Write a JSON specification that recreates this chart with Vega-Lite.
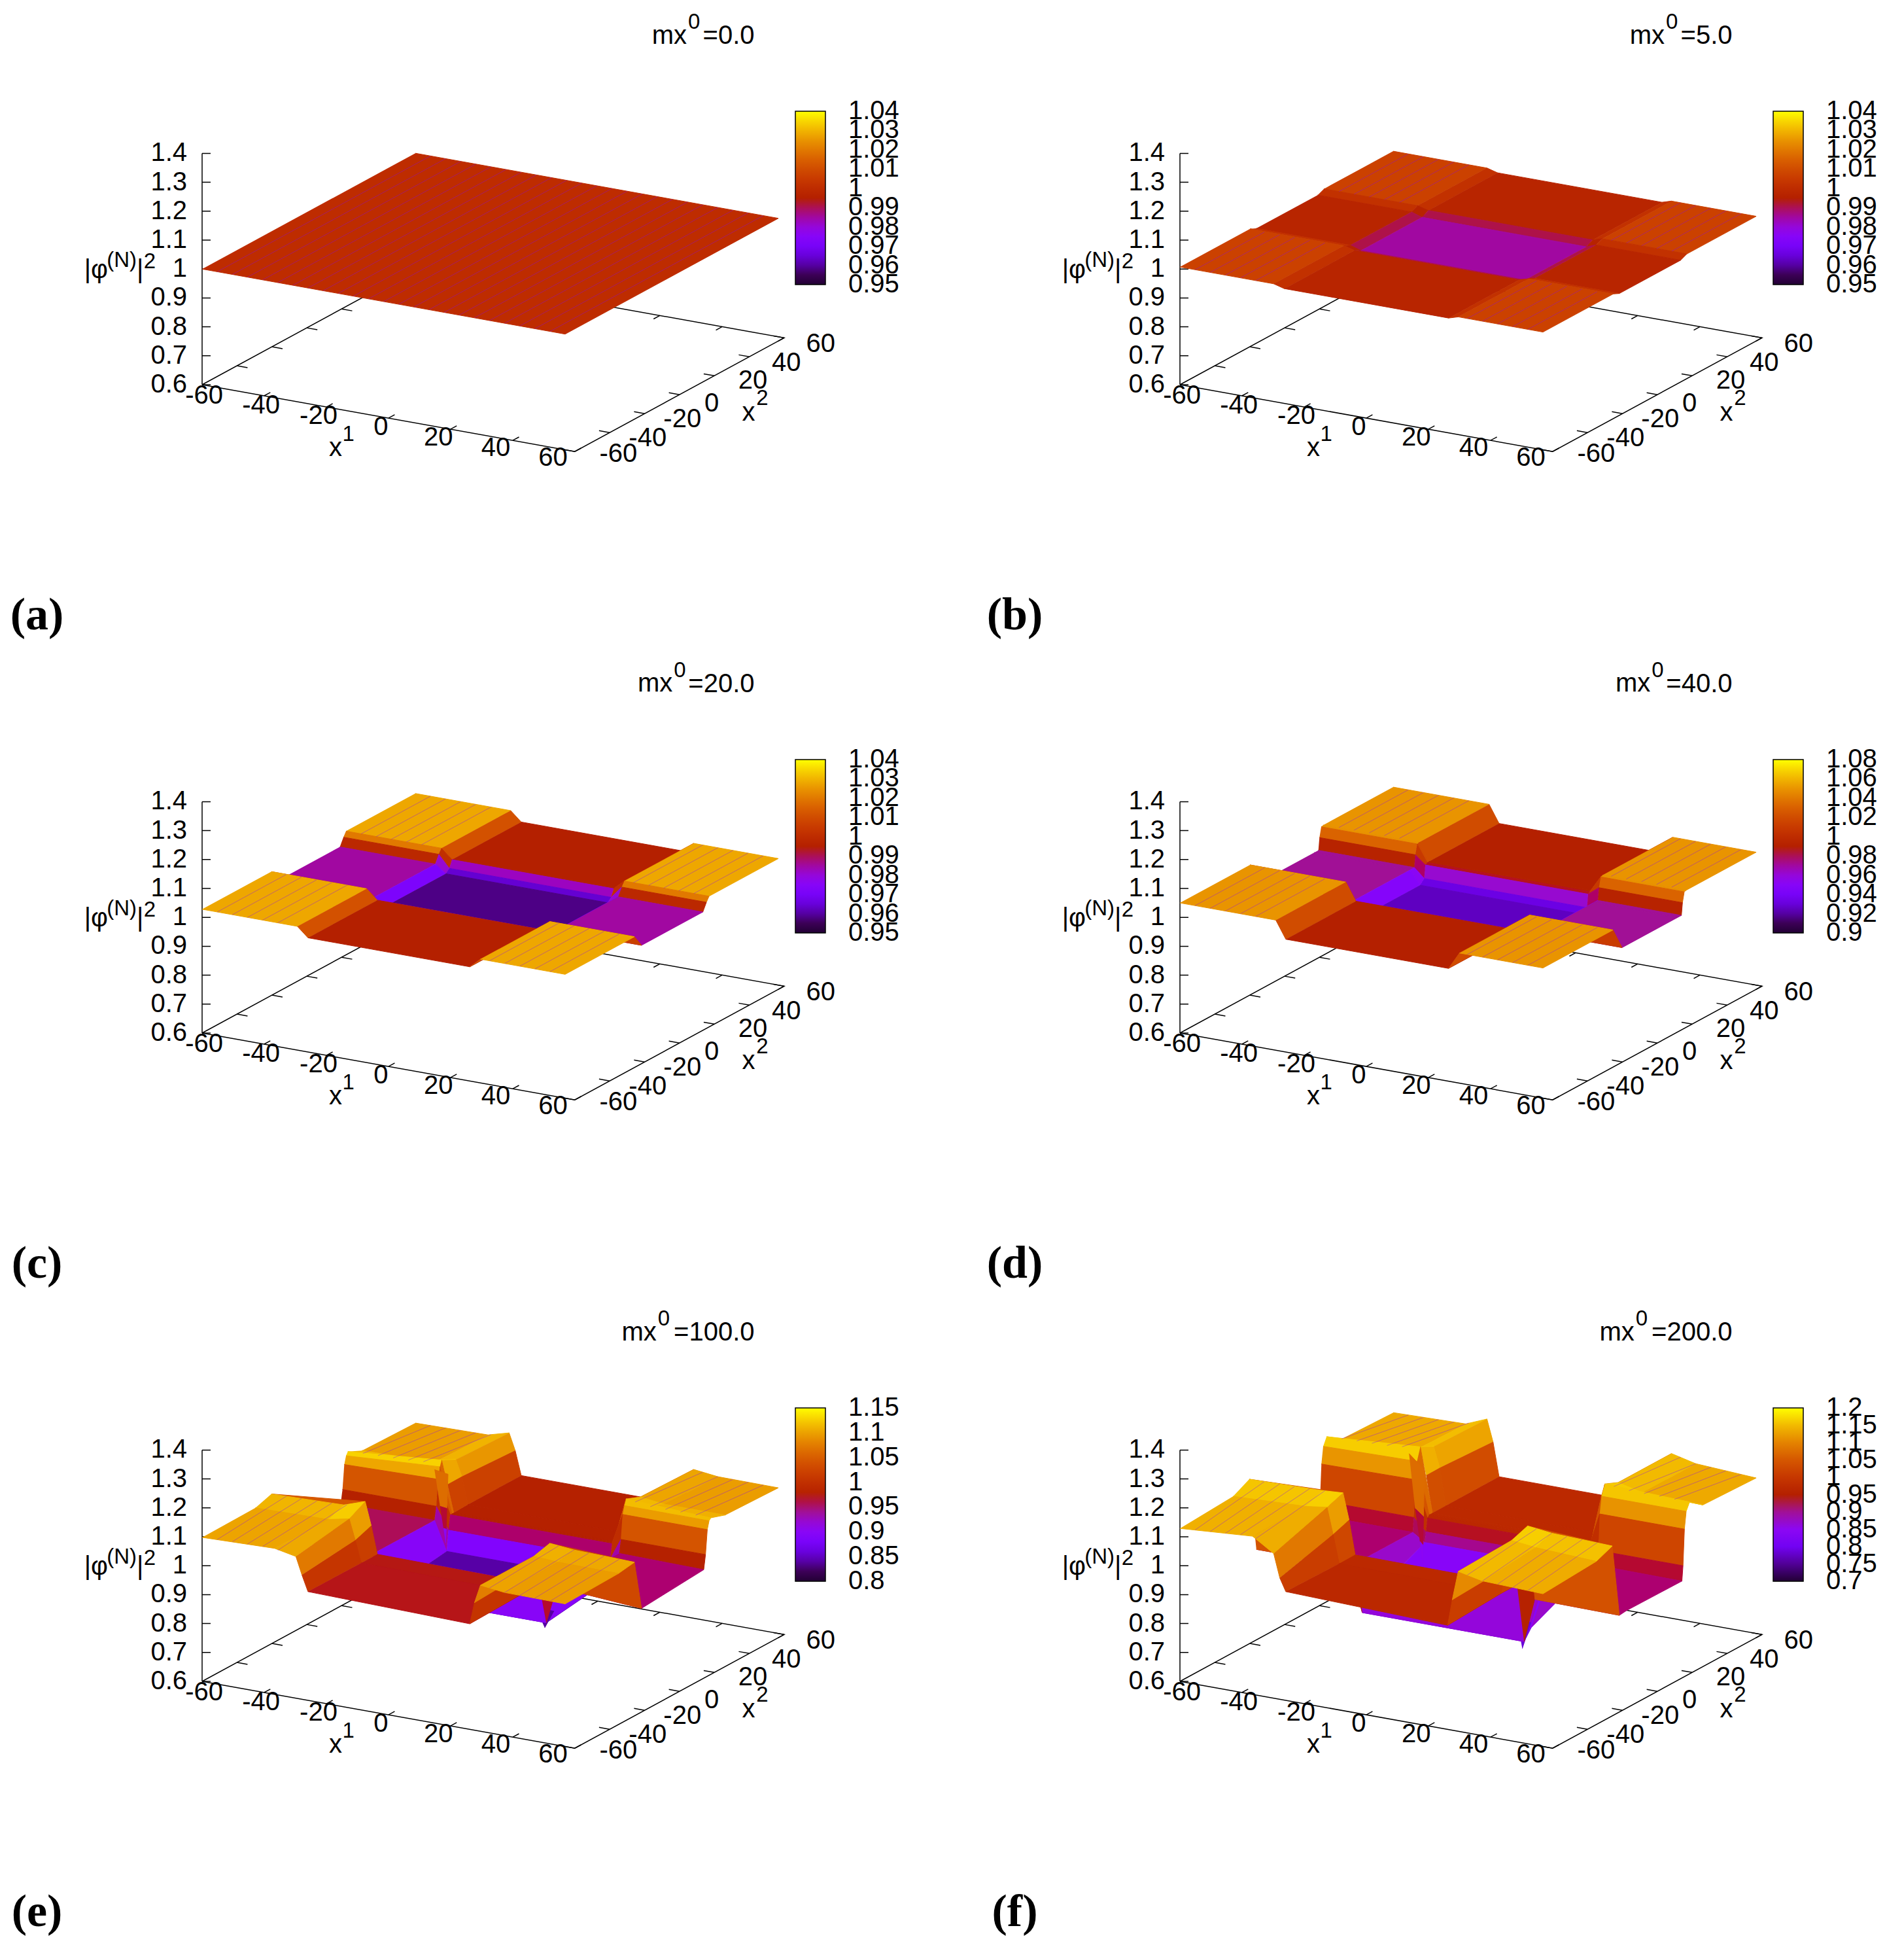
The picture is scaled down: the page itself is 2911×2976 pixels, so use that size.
{"$schema":"https://vega.github.io/schema/vega-lite/v6.json","padding":0,"background":"white","columns":2,"spacing":{"row":6,"column":79},"bounds":"flush",
"config":{"view":{"stroke":null},"text":{"font":"Liberation Sans","fontSize":40,"color":"black"},"range":{"ramp":["#000000","#39004f","#510096","#6301ce","#7202f3","#8004ff","#8c07f3","#970bce","#a11096","#ab174f","#b42000","#bd2a00","#c63700","#ce4600","#d55700","#dd6c00","#e48300","#eb9d00","#f2ba00","#f9db00","#ffff00"]},"legend":{"gradientLength":265,"gradientThickness":46,"labelFontSize":40,"labelFont":"Liberation Sans","labelColor":"black","labelOverlap":false,"labelFlush":false,"gradientStrokeColor":"black","gradientStrokeWidth":1.5,"padding":0}},
"resolve":{"scale":{"fill":"independent","stroke":"independent"},"legend":{"fill":"independent"}},
"data":{"values":[
{"p":"f","a":[-60,63.2,63.2,-60,-60],"b":[-60,-60,57.8,57.8,-60],"z":[0.6,0.6,0.6,0.6,0.6]},
{"p":"f","a":[-60,-60],"b":[-60,-60],"z":[0.6,1.4]},
{"p":"f","a":[-60,-57.89],"b":[-60,-58.81],"z":[0.6,0.6]},{"p":"f","a":[-60,-57.89],"b":[-60,-58.81],"z":[0.7,0.7]},{"p":"f","a":[-60,-57.89],"b":[-60,-58.81],"z":[0.8,0.8]},{"p":"f","a":[-60,-57.89],"b":[-60,-58.81],"z":[0.9,0.9]},{"p":"f","a":[-60,-57.89],"b":[-60,-58.81],"z":[1,1]},{"p":"f","a":[-60,-57.89],"b":[-60,-58.81],"z":[1.1,1.1]},{"p":"f","a":[-60,-57.89],"b":[-60,-58.81],"z":[1.2,1.2]},{"p":"f","a":[-60,-57.89],"b":[-60,-58.81],"z":[1.3,1.3]},{"p":"f","a":[-60,-57.89],"b":[-60,-58.81],"z":[1.4,1.4]},
{"p":"f","a":[-39.5,-39.5],"b":[-60,-56.5],"z":[0.6,0.6]},{"p":"f","a":[-18.9,-18.9],"b":[-60,-56.5],"z":[0.6,0.6]},{"p":"f","a":[1.6,1.6],"b":[-60,-56.5],"z":[0.6,0.6]},{"p":"f","a":[22.1,22.1],"b":[-60,-56.5],"z":[0.6,0.6]},{"p":"f","a":[42.7,42.7],"b":[-60,-56.5],"z":[0.6,0.6]},{"p":"f","a":[63.2,63.2],"b":[-60,-56.5],"z":[0.6,0.6]},
{"p":"f","a":[-39.5,-39.5],"b":[57.8,54.3],"z":[0.6,0.6]},{"p":"f","a":[-18.9,-18.9],"b":[57.8,54.3],"z":[0.6,0.6]},{"p":"f","a":[1.6,1.6],"b":[57.8,54.3],"z":[0.6,0.6]},{"p":"f","a":[22.1,22.1],"b":[57.8,54.3],"z":[0.6,0.6]},{"p":"f","a":[42.7,42.7],"b":[57.8,54.3],"z":[0.6,0.6]},{"p":"f","a":[63.2,63.2],"b":[57.8,54.3],"z":[0.6,0.6]},
{"p":"f","a":[63.2,59.7],"b":[-60,-60],"z":[0.6,0.6]},{"p":"f","a":[63.2,59.7],"b":[-40.4,-40.4],"z":[0.6,0.6]},{"p":"f","a":[63.2,59.7],"b":[-20.7,-20.7],"z":[0.6,0.6]},{"p":"f","a":[63.2,59.7],"b":[-1.1,-1.1],"z":[0.6,0.6]},{"p":"f","a":[63.2,59.7],"b":[18.5,18.5],"z":[0.6,0.6]},{"p":"f","a":[63.2,59.7],"b":[38.2,38.2],"z":[0.6,0.6]},{"p":"f","a":[63.2,59.7],"b":[57.8,57.8],"z":[0.6,0.6]},
{"p":"f","a":[-60,-56.5],"b":[-40.4,-40.4],"z":[0.6,0.6]},{"p":"f","a":[-60,-56.5],"b":[-20.7,-20.7],"z":[0.6,0.6]},{"p":"f","a":[-60,-56.5],"b":[-1.1,-1.1],"z":[0.6,0.6]},{"p":"f","a":[-60,-56.5],"b":[18.5,18.5],"z":[0.6,0.6]},{"p":"f","a":[-60,-56.5],"b":[38.2,38.2],"z":[0.6,0.6]},
{"p":"z","t":"0.6","a":[-63.74],"b":[-62.1],"z":[0.6]},{"p":"z","t":"0.7","a":[-63.74],"b":[-62.1],"z":[0.7]},{"p":"z","t":"0.8","a":[-63.74],"b":[-62.1],"z":[0.8]},{"p":"z","t":"0.9","a":[-63.74],"b":[-62.1],"z":[0.9]},{"p":"z","t":"1","a":[-63.74],"b":[-62.1],"z":[1]},{"p":"z","t":"1.1","a":[-63.74],"b":[-62.1],"z":[1.1]},{"p":"z","t":"1.2","a":[-63.74],"b":[-62.1],"z":[1.2]},{"p":"z","t":"1.3","a":[-63.74],"b":[-62.1],"z":[1.3]},{"p":"z","t":"1.4","a":[-63.74],"b":[-62.1],"z":[1.4]},
{"p":"t","t":"-60","a":[-54.5],"b":[-68.2],"z":[0.6]},{"p":"t","t":"-40","a":[-35.7],"b":[-68.2],"z":[0.6]},{"p":"t","t":"-20","a":[-16.7],"b":[-68.2],"z":[0.6]},{"p":"t","t":"0","a":[3.9],"b":[-68.2],"z":[0.6]},{"p":"t","t":"20","a":[22.9],"b":[-68.2],"z":[0.6]},{"p":"t","t":"40","a":[41.9],"b":[-68.2],"z":[0.6]},{"p":"t","t":"60","a":[60.8],"b":[-68.2],"z":[0.6]},
{"p":"t","t":"-60","a":[75.2],"b":[-55.9],"z":[0.6]},{"p":"t","t":"-40","a":[75.2],"b":[-39.4],"z":[0.6]},{"p":"t","t":"-20","a":[75.2],"b":[-19.9],"z":[0.6]},{"p":"t","t":"0","a":[75.2],"b":[-3.4],"z":[0.6]},{"p":"t","t":"20","a":[75.2],"b":[19.8],"z":[0.6]},{"p":"t","t":"40","a":[75.2],"b":[38.6],"z":[0.6]},{"p":"t","t":"60","a":[75.2],"b":[57.9],"z":[0.6]},
{"p":"t","t":"x","a":[-11.1],"b":[-68.2],"z":[0.5]},{"p":"t","t":"x","a":[75],"b":[17.7],"z":[0.497]},{"p":"t","t":"|φ","a":[-59.4],"b":[-120.7],"z":[1.2]},{"p":"t","t":"|","a":[-59.6],"b":[-95.6],"z":[1.115]},
{"p":"u","t":"1","a":[-6.8],"b":[-68.2],"z":[0.555]},{"p":"u","t":"2","a":[75],"b":[25.4],"z":[0.521]},{"p":"u","t":"(N)","a":[-59.5],"b":[-106.1],"z":[1.185]},{"p":"u","t":"2","a":[-59.7],"b":[-90],"z":[1.126]},
{"p":"a1","t":"=0.0","a":[122.9],"b":[-60.5],"z":[2.151]},{"p":"a1","t":"mx","a":[100.5],"b":[-60.5],"z":[2.109]},{"p":"a2","t":"0","a":[102.9],"b":[-60.5],"z":[2.161]},{"p":"a3","t":"(a)","a":[-114.6],"b":[-60],"z":[-0.3]},
{"p":"b1","t":"=5.0","a":[122.9],"b":[-60.5],"z":[2.151]},{"p":"b1","t":"mx","a":[100.5],"b":[-60.5],"z":[2.109]},{"p":"b2","t":"0","a":[102.9],"b":[-60.5],"z":[2.161]},{"p":"b3","t":"(b)","a":[-114.6],"b":[-60],"z":[-0.3]},
{"p":"c1","t":"=20.0","a":[122.9],"b":[-60.5],"z":[2.151]},{"p":"c1","t":"mx","a":[95.8],"b":[-60.5],"z":[2.101]},{"p":"c2","t":"0","a":[98.2],"b":[-60.5],"z":[2.152]},{"p":"c3","t":"(c)","a":[-114.6],"b":[-60],"z":[-0.3]},
{"p":"d1","t":"=40.0","a":[122.9],"b":[-60.5],"z":[2.151]},{"p":"d1","t":"mx","a":[95.8],"b":[-60.5],"z":[2.101]},{"p":"d2","t":"0","a":[98.2],"b":[-60.5],"z":[2.152]},{"p":"d3","t":"(d)","a":[-114.6],"b":[-60],"z":[-0.3]},
{"p":"e1","t":"=100.0","a":[122.9],"b":[-60.5],"z":[2.151]},{"p":"e1","t":"mx","a":[90.5],"b":[-60.5],"z":[2.09]},{"p":"e2","t":"0","a":[92.9],"b":[-60.5],"z":[2.142]},{"p":"e3","t":"(e)","a":[-114.6],"b":[-60],"z":[-0.3]},
{"p":"f1","t":"=200.0","a":[122.9],"b":[-60.5],"z":[2.151]},{"p":"f1","t":"mx","a":[90.5],"b":[-60.5],"z":[2.09]},{"p":"f2","t":"0","a":[92.9],"b":[-60.5],"z":[2.142]},{"p":"f3","t":"(f)","a":[-114.6],"b":[-60],"z":[-0.3]},

{"p":"a","a":[-60,60,60,-60],"b":[-60,-60,60,60],"z":[1,1,1,1]},
{"p":"ah","a":[-55,-55],"b":[-60,60],"z":[1,1]},{"p":"ah","a":[-50,-50],"b":[-60,60],"z":[1,1]},{"p":"ah","a":[-45,-45],"b":[-60,60],"z":[1,1]},{"p":"ah","a":[-40,-40],"b":[-60,60],"z":[1,1]},{"p":"ah","a":[-35,-35],"b":[-60,60],"z":[1,1]},{"p":"ah","a":[-30,-30],"b":[-60,60],"z":[1,1]},{"p":"ah","a":[-25,-25],"b":[-60,60],"z":[1,1]},{"p":"ah","a":[-20,-20],"b":[-60,60],"z":[1,1]},{"p":"ah","a":[-15,-15],"b":[-60,60],"z":[1,1]},{"p":"ah","a":[-10,-10],"b":[-60,60],"z":[1,1]},{"p":"ah","a":[-5,-5],"b":[-60,60],"z":[1,1]},{"p":"ah","a":[0,0],"b":[-60,60],"z":[1,1]},{"p":"ah","a":[5,5],"b":[-60,60],"z":[1,1]},{"p":"ah","a":[10,10],"b":[-60,60],"z":[1,1]},{"p":"ah","a":[15,15],"b":[-60,60],"z":[1,1]},{"p":"ah","a":[20,20],"b":[-60,60],"z":[1,1]},{"p":"ah","a":[25,25],"b":[-60,60],"z":[1,1]},{"p":"ah","a":[30,30],"b":[-60,60],"z":[1,1]},{"p":"ah","a":[35,35],"b":[-60,60],"z":[1,1]},{"p":"ah","a":[40,40],"b":[-60,60],"z":[1,1]},{"p":"ah","a":[45,45],"b":[-60,60],"z":[1,1]},{"p":"ah","a":[50,50],"b":[-60,60],"z":[1,1]},{"p":"ah","a":[55,55],"b":[-60,60],"z":[1,1]},

{"p":"bh","a":[-55,-55],"b":[60,21],"z":[1.007,1.007]},{"p":"bh","a":[-50,-50],"b":[60,21],"z":[1.007,1.007]},{"p":"bh","a":[-45,-45],"b":[60,21],"z":[1.007,1.007]},{"p":"bh","a":[-40,-40],"b":[60,21],"z":[1.007,1.007]},{"p":"bh","a":[-35,-35],"b":[60,21],"z":[1.007,1.007]},{"p":"bh","a":[35,35],"b":[60,21],"z":[1.007,1.007]},{"p":"bh","a":[40,40],"b":[60,21],"z":[1.007,1.007]},{"p":"bh","a":[45,45],"b":[60,21],"z":[1.007,1.007]},{"p":"bh","a":[50,50],"b":[60,21],"z":[1.007,1.007]},{"p":"bh","a":[55,55],"b":[60,21],"z":[1.007,1.007]},
{"p":"bh","a":[-55,-55],"b":[-21,-60],"z":[1.007,1.007]},{"p":"bh","a":[-50,-50],"b":[-21,-60],"z":[1.007,1.007]},{"p":"bh","a":[-45,-45],"b":[-21,-60],"z":[1.007,1.007]},{"p":"bh","a":[-40,-40],"b":[-21,-60],"z":[1.007,1.007]},{"p":"bh","a":[-35,-35],"b":[-21,-60],"z":[1.007,1.007]},{"p":"bh","a":[35,35],"b":[-21,-60],"z":[1.007,1.007]},{"p":"bh","a":[40,40],"b":[-21,-60],"z":[1.007,1.007]},{"p":"bh","a":[45,45],"b":[-21,-60],"z":[1.007,1.007]},{"p":"bh","a":[50,50],"b":[-21,-60],"z":[1.007,1.007]},{"p":"bh","a":[55,55],"b":[-21,-60],"z":[1.007,1.007]},

{"p":"ch","a":[-55,-55],"b":[60,21],"z":[1.028,1.028]},{"p":"ch","a":[-50,-50],"b":[60,21],"z":[1.028,1.028]},{"p":"ch","a":[-45,-45],"b":[60,21],"z":[1.028,1.028]},{"p":"ch","a":[-40,-40],"b":[60,21],"z":[1.028,1.028]},{"p":"ch","a":[-35,-35],"b":[60,21],"z":[1.028,1.028]},{"p":"ch","a":[35,35],"b":[60,21],"z":[1.028,1.028]},{"p":"ch","a":[40,40],"b":[60,21],"z":[1.028,1.028]},{"p":"ch","a":[45,45],"b":[60,21],"z":[1.028,1.028]},{"p":"ch","a":[50,50],"b":[60,21],"z":[1.028,1.028]},{"p":"ch","a":[55,55],"b":[60,21],"z":[1.028,1.028]},
{"p":"ch","a":[-55,-55],"b":[-21,-60],"z":[1.028,1.028]},{"p":"ch","a":[-50,-50],"b":[-21,-60],"z":[1.028,1.028]},{"p":"ch","a":[-45,-45],"b":[-21,-60],"z":[1.028,1.028]},{"p":"ch","a":[-40,-40],"b":[-21,-60],"z":[1.028,1.028]},{"p":"ch","a":[-35,-35],"b":[-21,-60],"z":[1.028,1.028]},{"p":"ch","a":[35,35],"b":[-21,-60],"z":[1.028,1.028]},{"p":"ch","a":[40,40],"b":[-21,-60],"z":[1.028,1.028]},{"p":"ch","a":[45,45],"b":[-21,-60],"z":[1.028,1.028]},{"p":"ch","a":[50,50],"b":[-21,-60],"z":[1.028,1.028]},{"p":"ch","a":[55,55],"b":[-21,-60],"z":[1.028,1.028]},

{"p":"dh","a":[-55,-55],"b":[60,21],"z":[1.05,1.05]},{"p":"dh","a":[-50,-50],"b":[60,21],"z":[1.05,1.05]},{"p":"dh","a":[-45,-45],"b":[60,21],"z":[1.05,1.05]},{"p":"dh","a":[-40,-40],"b":[60,21],"z":[1.05,1.05]},{"p":"dh","a":[-35,-35],"b":[60,21],"z":[1.05,1.05]},{"p":"dh","a":[35,35],"b":[60,21],"z":[1.05,1.05]},{"p":"dh","a":[40,40],"b":[60,21],"z":[1.05,1.05]},{"p":"dh","a":[45,45],"b":[60,21],"z":[1.05,1.05]},{"p":"dh","a":[50,50],"b":[60,21],"z":[1.05,1.05]},{"p":"dh","a":[55,55],"b":[60,21],"z":[1.05,1.05]},
{"p":"dh","a":[-55,-55],"b":[-21,-60],"z":[1.05,1.05]},{"p":"dh","a":[-50,-50],"b":[-21,-60],"z":[1.05,1.05]},{"p":"dh","a":[-45,-45],"b":[-21,-60],"z":[1.05,1.05]},{"p":"dh","a":[-40,-40],"b":[-21,-60],"z":[1.05,1.05]},{"p":"dh","a":[-35,-35],"b":[-21,-60],"z":[1.05,1.05]},{"p":"dh","a":[35,35],"b":[-21,-60],"z":[1.05,1.05]},{"p":"dh","a":[40,40],"b":[-21,-60],"z":[1.05,1.05]},{"p":"dh","a":[45,45],"b":[-21,-60],"z":[1.05,1.05]},{"p":"dh","a":[50,50],"b":[-21,-60],"z":[1.05,1.05]},{"p":"dh","a":[55,55],"b":[-21,-60],"z":[1.05,1.05]},

{"p":"eh","a":[-55,-55],"b":[60,22],"z":[1.094,1.124]},{"p":"eh","a":[-50,-50],"b":[60,22],"z":[1.095,1.126]},{"p":"eh","a":[-45,-45],"b":[60,22],"z":[1.096,1.127]},{"p":"eh","a":[-40,-40],"b":[60,22],"z":[1.097,1.129]},{"p":"eh","a":[-35,-35],"b":[60,22],"z":[1.1,1.133]},{"p":"eh","a":[35,35],"b":[60,22],"z":[1.101,1.125]},{"p":"eh","a":[40,40],"b":[60,22],"z":[1.095,1.118]},{"p":"eh","a":[45,45],"b":[60,22],"z":[1.095,1.118]},{"p":"eh","a":[50,50],"b":[60,22],"z":[1.095,1.118]},{"p":"eh","a":[55,55],"b":[60,22],"z":[1.094,1.117]},
{"p":"eh","a":[-55,-55],"b":[-21,-60],"z":[1.12,1.1]},{"p":"eh","a":[-50,-50],"b":[-21,-60],"z":[1.121,1.102]},{"p":"eh","a":[-45,-45],"b":[-21,-60],"z":[1.122,1.103]},{"p":"eh","a":[-40,-40],"b":[-21,-60],"z":[1.124,1.104]},{"p":"eh","a":[-35,-35],"b":[-21,-60],"z":[1.128,1.1]},{"p":"eh","a":[35,35],"b":[-21,-60],"z":[1.117,1.101]},{"p":"eh","a":[40,40],"b":[-21,-60],"z":[1.112,1.095]},{"p":"eh","a":[45,45],"b":[-21,-60],"z":[1.111,1.094]},{"p":"eh","a":[50,50],"b":[-21,-60],"z":[1.11,1.094]},{"p":"eh","a":[55,55],"b":[-21,-60],"z":[1.108,1.093]},

{"p":"gh","a":[-55,-55],"b":[60,22.5],"z":[1.13,1.173]},{"p":"gh","a":[-50,-50],"b":[60,22.5],"z":[1.131,1.175]},{"p":"gh","a":[-45,-45],"b":[60,22.5],"z":[1.133,1.176]},{"p":"gh","a":[-40,-40],"b":[60,22.5],"z":[1.134,1.178]},{"p":"gh","a":[-35,-35],"b":[60,22.5],"z":[1.14,1.183]},{"p":"gh","a":[35,35],"b":[60,22.5],"z":[1.153,1.177]},{"p":"gh","a":[40,40],"b":[60,22.5],"z":[1.14,1.172]},{"p":"gh","a":[45,45],"b":[60,22.5],"z":[1.137,1.171]},{"p":"gh","a":[50,50],"b":[60,22.5],"z":[1.134,1.171]},{"p":"gh","a":[55,55],"b":[60,22.5],"z":[1.131,1.17]},
{"p":"gh","a":[-55,-55],"b":[-21,-60],"z":[1.17,1.133]},{"p":"gh","a":[-50,-50],"b":[-21,-60],"z":[1.171,1.137]},{"p":"gh","a":[-45,-45],"b":[-21,-60],"z":[1.172,1.14]},{"p":"gh","a":[-40,-40],"b":[-21,-60],"z":[1.174,1.145]},{"p":"gh","a":[-35,-35],"b":[-21,-60],"z":[1.176,1.14]},{"p":"gh","a":[35,35],"b":[-21,-60],"z":[1.176,1.146]},{"p":"gh","a":[40,40],"b":[-21,-60],"z":[1.17,1.135]},{"p":"gh","a":[45,45],"b":[-21,-60],"z":[1.168,1.133]},{"p":"gh","a":[50,50],"b":[-21,-60],"z":[1.166,1.131]},{"p":"gh","a":[55,55],"b":[-21,-60],"z":[1.165,1.13]},

{"p":"b","a":[-60,-29,-29,-60],"b":[60,60,21,21],"z":[1.007,1.007,1.007,1.007]},{"p":"b","a":[-29,-25.5,-25.5,-29],"b":[60,60,21,21],"z":[1.007,0.997,0.997,1.007]},{"p":"b","a":[-25.5,28.8,28.8,-25.5],"b":[60,60,21,21],"z":[0.997,0.997,0.997,0.997]},{"p":"b","a":[28.8,32,32,28.8],"b":[60,60,21,21],"z":[0.997,1.007,1.007,0.997]},{"p":"b","a":[32,60,60,32],"b":[60,60,21,21],"z":[1.007,1.007,1.007,1.007]},
{"p":"b","a":[-60,-29,-29,-60],"b":[21,21,17.5,17.5],"z":[1.007,1.007,0.997,0.997]},{"p":"b","a":[-29,-25.5,-25.5,-29],"b":[21,21,17.5,17.5],"z":[1.007,0.997,0.985,0.997]},{"p":"b","a":[-25.5,28.8,28.8,-25.5],"b":[21,21,17.5,17.5],"z":[0.997,0.997,0.985,0.985]},{"p":"b","a":[28.8,32,32,28.8],"b":[21,21,17.5,17.5],"z":[0.997,1.007,0.997,0.985]},{"p":"b","a":[32,60,60,32],"b":[21,21,17.5,17.5],"z":[1.007,1.007,0.997,0.997]},
{"p":"b","a":[-60,-29,-29,-60],"b":[17.5,17.5,-17,-17],"z":[0.997,0.997,0.997,0.997]},{"p":"b","a":[-29,-25.5,-25.5,-29],"b":[17.5,17.5,-17,-17],"z":[0.997,0.985,0.985,0.997]},{"p":"b","a":[-25.5,28.8,28.8,-25.5],"b":[17.5,17.5,-17,-17],"z":[0.985,0.985,0.985,0.985]},{"p":"b","a":[28.8,32,32,28.8],"b":[17.5,17.5,-17,-17],"z":[0.985,0.997,0.997,0.985]},{"p":"b","a":[32,60,60,32],"b":[17.5,17.5,-17,-17],"z":[0.997,0.997,0.997,0.997]},
{"p":"b","a":[-60,-29,-29,-60],"b":[-17,-17,-20.5,-20.5],"z":[0.997,0.997,1.007,1.007]},{"p":"b","a":[-29,-25.5,-25.5,-29],"b":[-17,-17,-20.5,-20.5],"z":[0.997,0.985,0.997,1.007]},{"p":"b","a":[-25.5,28.8,28.8,-25.5],"b":[-17,-17,-20.5,-20.5],"z":[0.985,0.985,0.997,0.997]},{"p":"b","a":[28.8,32,32,28.8],"b":[-17,-17,-20.5,-20.5],"z":[0.985,0.997,1.007,0.997]},{"p":"b","a":[32,60,60,32],"b":[-17,-17,-20.5,-20.5],"z":[0.997,0.997,1.007,1.007]},
{"p":"b","a":[-60,-29,-29,-60],"b":[-20.5,-20.5,-60,-60],"z":[1.007,1.007,1.007,1.007]},{"p":"b","a":[-29,-25.5,-25.5,-29],"b":[-20.5,-20.5,-60,-60],"z":[1.007,0.997,0.997,1.007]},{"p":"b","a":[-25.5,28.8,28.8,-25.5],"b":[-20.5,-20.5,-60,-60],"z":[0.997,0.997,0.997,0.997]},{"p":"b","a":[28.8,32,32,28.8],"b":[-20.5,-20.5,-60,-60],"z":[0.997,1.007,1.007,0.997]},{"p":"b","a":[32,60,60,32],"b":[-20.5,-20.5,-60,-60],"z":[1.007,1.007,1.007,1.007]},

{"p":"c","a":[-60,-28.5,-28.5,-60],"b":[60,60,21,21],"z":[1.028,1.028,1.028,1.028]},{"p":"c","a":[-28.5,-25,-25,-28.5],"b":[60,60,21,21],"z":[1.028,0.995,0.995,1.028]},{"p":"c","a":[-25,28.5,28.5,-25],"b":[60,60,21,21],"z":[0.995,0.995,0.995,0.995]},{"p":"c","a":[28.5,32,32,28.5],"b":[60,60,21,21],"z":[0.995,1.028,1.028,0.995]},{"p":"c","a":[32,60,60,32],"b":[60,60,21,21],"z":[1.028,1.028,1.028,1.028]},
{"p":"c","a":[-60,-28.5,-28.5,-60],"b":[21,21,19.5,19.5],"z":[1.028,1.028,1.012,1.012]},{"p":"c","a":[-28.5,-25,-25,-28.5],"b":[21,21,19.5,19.5],"z":[1.028,0.995,0.97,1.012]},{"p":"c","a":[-25,28.5,28.5,-25],"b":[21,21,19.5,19.5],"z":[0.995,0.995,0.97,0.97]},{"p":"c","a":[28.5,32,32,28.5],"b":[21,21,19.5,19.5],"z":[0.995,1.028,1.012,0.97]},{"p":"c","a":[32,60,60,32],"b":[21,21,19.5,19.5],"z":[1.028,1.028,1.012,1.012]},
{"p":"c","a":[-60,-28.5,-28.5,-60],"b":[19.5,19.5,17.5,17.5],"z":[1.012,1.012,0.985,0.985]},{"p":"c","a":[-28.5,-25,-25,-28.5],"b":[19.5,19.5,17.5,17.5],"z":[1.012,0.97,0.958,0.985]},{"p":"c","a":[-25,28.5,28.5,-25],"b":[19.5,19.5,17.5,17.5],"z":[0.97,0.97,0.958,0.958]},{"p":"c","a":[28.5,32,32,28.5],"b":[19.5,19.5,17.5,17.5],"z":[0.97,1.012,0.985,0.958]},{"p":"c","a":[32,60,60,32],"b":[19.5,19.5,17.5,17.5],"z":[1.012,1.012,0.985,0.985]},
{"p":"c","a":[-60,-28.5,-28.5,-60],"b":[17.5,17.5,-17,-17],"z":[0.985,0.985,0.985,0.985]},{"p":"c","a":[-28.5,-25,-25,-28.5],"b":[17.5,17.5,-17,-17],"z":[0.985,0.958,0.958,0.985]},{"p":"c","a":[-25,28.5,28.5,-25],"b":[17.5,17.5,-17,-17],"z":[0.958,0.958,0.958,0.958]},{"p":"c","a":[28.5,32,32,28.5],"b":[17.5,17.5,-17,-17],"z":[0.958,0.985,0.985,0.958]},{"p":"c","a":[32,60,60,32],"b":[17.5,17.5,-17,-17],"z":[0.985,0.985,0.985,0.985]},
{"p":"c","a":[-60,-28.5,-28.5,-60],"b":[-17,-17,-21,-21],"z":[0.985,0.985,1.028,1.028]},{"p":"c","a":[-28.5,-25,-25,-28.5],"b":[-17,-17,-21,-21],"z":[0.985,0.958,0.995,1.028]},{"p":"c","a":[-25,28.5,28.5,-25],"b":[-17,-17,-21,-21],"z":[0.958,0.958,0.995,0.995]},{"p":"c","a":[28.5,32,32,28.5],"b":[-17,-17,-21,-21],"z":[0.958,0.985,1.028,0.995]},{"p":"c","a":[32,60,60,32],"b":[-17,-17,-21,-21],"z":[0.985,0.985,1.028,1.028]},
{"p":"c","a":[-60,-28.5,-28.5,-60],"b":[-21,-21,-60,-60],"z":[1.028,1.028,1.028,1.028]},{"p":"c","a":[-28.5,-25,-25,-28.5],"b":[-21,-21,-60,-60],"z":[1.028,0.995,0.995,1.028]},{"p":"c","a":[-25,28.5,28.5,-25],"b":[-21,-21,-60,-60],"z":[0.995,0.995,0.995,0.995]},{"p":"c","a":[28.5,32,32,28.5],"b":[-21,-21,-60,-60],"z":[0.995,1.028,1.028,0.995]},{"p":"c","a":[32,60,60,32],"b":[-21,-21,-60,-60],"z":[1.028,1.028,1.028,1.028]},

{"p":"d","a":[-60,-28.3,-28.3,-60],"b":[60,60,20.6,20.6],"z":[1.05,1.05,1.05,1.05]},{"p":"d","a":[-28.3,-25,-25,-28.3],"b":[60,60,20.6,20.6],"z":[1.05,0.99,0.99,1.05]},{"p":"d","a":[-25,28.8,28.8,-25],"b":[60,60,20.6,20.6],"z":[0.99,0.99,0.99,0.99]},{"p":"d","a":[28.8,32.4,32.4,28.8],"b":[60,60,20.6,20.6],"z":[0.99,1.05,1.05,0.99]},{"p":"d","a":[32.4,60,60,32.4],"b":[60,60,20.6,20.6],"z":[1.05,1.05,1.05,1.05]},
{"p":"d","a":[-60,-28.3,-28.3,-60],"b":[20.6,20.6,19.5,19.5],"z":[1.05,1.05,1.048,1.048]},{"p":"d","a":[-28.3,-25,-25,-28.3],"b":[20.6,20.6,19.5,19.5],"z":[1.05,0.99,0.99,1.048]},{"p":"d","a":[-25,28.8,28.8,-25],"b":[20.6,20.6,19.5,19.5],"z":[0.99,0.99,0.99,0.99]},{"p":"d","a":[28.8,32.4,32.4,28.8],"b":[20.6,20.6,19.5,19.5],"z":[0.99,1.05,1.048,0.99]},{"p":"d","a":[32.4,60,60,32.4],"b":[20.6,20.6,19.5,19.5],"z":[1.05,1.05,1.048,1.048]},
{"p":"d","a":[-60,-28.3,-28.3,-60],"b":[19.5,19.5,18.5,18.5],"z":[1.048,1.048,1.014,1.014]},{"p":"d","a":[-28.3,-25,-25,-28.3],"b":[19.5,19.5,18.5,18.5],"z":[1.048,0.99,0.985,1.014]},{"p":"d","a":[-25,28.8,28.8,-25],"b":[19.5,19.5,18.5,18.5],"z":[0.99,0.99,0.985,0.985]},{"p":"d","a":[28.8,32.4,32.4,28.8],"b":[19.5,19.5,18.5,18.5],"z":[0.99,1.048,1.014,0.985]},{"p":"d","a":[32.4,60,60,32.4],"b":[19.5,19.5,18.5,18.5],"z":[1.048,1.048,1.014,1.014]},
{"p":"d","a":[-60,-28.3,-28.3,-60],"b":[18.5,18.5,17.9,17.9],"z":[1.014,1.014,0.972,0.972]},{"p":"d","a":[-28.3,-25,-25,-28.3],"b":[18.5,18.5,17.9,17.9],"z":[1.014,0.985,0.94,0.972]},{"p":"d","a":[-25,28.8,28.8,-25],"b":[18.5,18.5,17.9,17.9],"z":[0.985,0.985,0.94,0.94]},{"p":"d","a":[28.8,32.4,32.4,28.8],"b":[18.5,18.5,17.9,17.9],"z":[0.985,1.014,0.972,0.94]},{"p":"d","a":[32.4,60,60,32.4],"b":[18.5,18.5,17.9,17.9],"z":[1.014,1.014,0.972,0.972]},
{"p":"d","a":[-60,-28.3,-28.3,-60],"b":[17.9,17.9,15.5,15.5],"z":[0.972,0.972,0.972,0.972]},{"p":"d","a":[-28.3,-25,-25,-28.3],"b":[17.9,17.9,15.5,15.5],"z":[0.972,0.94,0.925,0.972]},{"p":"d","a":[-25,28.8,28.8,-25],"b":[17.9,17.9,15.5,15.5],"z":[0.94,0.94,0.925,0.925]},{"p":"d","a":[28.8,32.4,32.4,28.8],"b":[17.9,17.9,15.5,15.5],"z":[0.94,0.972,0.972,0.925]},{"p":"d","a":[32.4,60,60,32.4],"b":[17.9,17.9,15.5,15.5],"z":[0.972,0.972,0.972,0.972]},
{"p":"d","a":[-60,-28.3,-28.3,-60],"b":[15.5,15.5,-15.5,-15.5],"z":[0.972,0.972,0.972,0.972]},{"p":"d","a":[-28.3,-25,-25,-28.3],"b":[15.5,15.5,-15.5,-15.5],"z":[0.972,0.925,0.925,0.972]},{"p":"d","a":[-25,28.8,28.8,-25],"b":[15.5,15.5,-15.5,-15.5],"z":[0.925,0.925,0.925,0.925]},{"p":"d","a":[28.8,32.4,32.4,28.8],"b":[15.5,15.5,-15.5,-15.5],"z":[0.925,0.972,0.972,0.925]},{"p":"d","a":[32.4,60,60,32.4],"b":[15.5,15.5,-15.5,-15.5],"z":[0.972,0.972,0.972,0.972]},
{"p":"d","a":[-60,-28.3,-28.3,-60],"b":[-15.5,-15.5,-20.6,-20.6],"z":[0.972,0.972,1.05,1.05]},{"p":"d","a":[-28.3,-25,-25,-28.3],"b":[-15.5,-15.5,-20.6,-20.6],"z":[0.972,0.925,0.99,1.05]},{"p":"d","a":[-25,28.8,28.8,-25],"b":[-15.5,-15.5,-20.6,-20.6],"z":[0.925,0.925,0.99,0.99]},{"p":"d","a":[28.8,32.4,32.4,28.8],"b":[-15.5,-15.5,-20.6,-20.6],"z":[0.925,0.972,1.05,0.99]},{"p":"d","a":[32.4,60,60,32.4],"b":[-15.5,-15.5,-20.6,-20.6],"z":[0.972,0.972,1.05,1.05]},
{"p":"d","a":[-60,-28.3,-28.3,-60],"b":[-20.6,-20.6,-60,-60],"z":[1.05,1.05,1.05,1.05]},{"p":"d","a":[-28.3,-25,-25,-28.3],"b":[-20.6,-20.6,-60,-60],"z":[1.05,0.99,0.99,1.05]},{"p":"d","a":[-25,28.8,28.8,-25],"b":[-20.6,-20.6,-60,-60],"z":[0.99,0.99,0.99,0.99]},{"p":"d","a":[28.8,32.4,32.4,28.8],"b":[-20.6,-20.6,-60,-60],"z":[0.99,1.05,1.05,0.99]},{"p":"d","a":[32.4,60,60,32.4],"b":[-20.6,-20.6,-60,-60],"z":[1.05,1.05,1.05,1.05]},

{"p":"e","a":[-60,-36,-36,-60],"b":[60,60,30,30],"z":[1.093,1.097,1.103,1.098]},{"p":"e","a":[-36,-29,-29,-36],"b":[60,60,30,30],"z":[1.097,1.117,1.125,1.103]},{"p":"e","a":[-29,-27,-27,-29],"b":[60,60,30,30],"z":[1.117,1.06,1.07,1.125]},{"p":"e","a":[-27,-25,-25,-27],"b":[60,60,30,30],"z":[1.06,0.977,0.977,1.07]},{"p":"e","a":[-25,28.5,28.5,-25],"b":[60,60,30,30],"z":[0.977,0.977,0.977,0.977]},{"p":"e","a":[28.5,30,30,28.5],"b":[60,60,30,30],"z":[0.977,1.04,1.04,0.977]},{"p":"e","a":[30,32,32,30],"b":[60,60,30,30],"z":[1.04,1.105,1.11,1.04]},{"p":"e","a":[32,40,40,32],"b":[60,60,30,30],"z":[1.105,1.095,1.1,1.11]},{"p":"e","a":[40,60,60,40],"b":[60,60,30,30],"z":[1.095,1.094,1.1,1.1]},
{"p":"e","a":[-60,-36,-36,-60],"b":[30,30,22,22],"z":[1.098,1.103,1.13,1.121]},{"p":"e","a":[-36,-29,-29,-36],"b":[30,30,22,22],"z":[1.103,1.125,1.15,1.13]},{"p":"e","a":[-29,-27,-27,-29],"b":[30,30,22,22],"z":[1.125,1.07,1.07,1.15]},{"p":"e","a":[-27,-25,-25,-27],"b":[30,30,22,22],"z":[1.07,0.977,0.975,1.07]},{"p":"e","a":[-25,28.5,28.5,-25],"b":[30,30,22,22],"z":[0.977,0.977,0.975,0.975]},{"p":"e","a":[28.5,30,30,28.5],"b":[30,30,22,22],"z":[0.977,1.04,1.05,0.975]},{"p":"e","a":[30,32,32,30],"b":[30,30,22,22],"z":[1.04,1.11,1.13,1.05]},{"p":"e","a":[32,40,40,32],"b":[30,30,22,22],"z":[1.11,1.1,1.118,1.13]},{"p":"e","a":[40,60,60,40],"b":[30,30,22,22],"z":[1.1,1.1,1.117,1.118]},
{"p":"e","a":[-60,-29,-29,-60],"b":[22,22,21,21],"z":[1.121,1.15,1.13,1.11]},{"p":"e","a":[-29,-25,-25,-29],"b":[22,22,21,21],"z":[1.15,0.975,0.975,1.13]},{"p":"e","a":[-25,28.5,28.5,-25],"b":[22,22,21,21],"z":[0.975,0.975,0.975,0.975]},{"p":"e","a":[28.5,32,32,28.5],"b":[22,22,21,21],"z":[0.975,1.13,1.11,0.975]},{"p":"e","a":[32,60,60,32],"b":[22,22,21,21],"z":[1.13,1.117,1.11,1.11]},
{"p":"e","a":[-60,-29,-29,-60],"b":[21,21,20,20],"z":[1.11,1.13,1.09,1.083]},{"p":"e","a":[-29,-25,-25,-29],"b":[21,21,20,20],"z":[1.13,0.975,0.975,1.09]},{"p":"e","a":[-25,28.5,28.5,-25],"b":[21,21,20,20],"z":[0.975,0.975,0.975,0.975]},{"p":"e","a":[28.5,32,32,28.5],"b":[21,21,20,20],"z":[0.975,1.11,1.083,0.975]},{"p":"e","a":[32,60,60,32],"b":[21,21,20,20],"z":[1.11,1.11,1.083,1.083]},
{"p":"e","a":[-60,-29,-29,-60],"b":[20,20,19,19],"z":[1.083,1.09,1,1]},{"p":"e","a":[-29,-25,-25,-29],"b":[20,20,19,19],"z":[1.09,0.975,0.925,1]},{"p":"e","a":[-25,28.5,28.5,-25],"b":[20,20,19,19],"z":[0.975,0.975,0.925,0.925]},{"p":"e","a":[28.5,32,32,28.5],"b":[20,20,19,19],"z":[0.975,1.083,1,0.925]},{"p":"e","a":[32,60,60,32],"b":[20,20,19,19],"z":[1.083,1.083,1,1]},
{"p":"e","a":[-60,-29,-29,-60],"b":[19,19,18,18],"z":[1,1,0.955,0.955]},{"p":"e","a":[-29,-25,-25,-29],"b":[19,19,18,18],"z":[1,0.925,0.855,0.955]},{"p":"e","a":[-25,28.5,28.5,-25],"b":[19,19,18,18],"z":[0.925,0.925,0.855,0.855]},{"p":"e","a":[28.5,32,32,28.5],"b":[19,19,18,18],"z":[0.925,1,0.955,0.855]},{"p":"e","a":[32,60,60,32],"b":[19,19,18,18],"z":[1,1,0.951,0.955]},
{"p":"e","a":[-60,-29,-29,-60],"b":[18,18,-17,-17],"z":[0.955,0.955,0.955,0.955]},{"p":"e","a":[-29,-25,-25,-29],"b":[18,18,-17,-17],"z":[0.955,0.855,0.825,0.955]},{"p":"e","a":[-25,28.5,28.5,-25],"b":[18,18,-17,-17],"z":[0.855,0.855,0.825,0.825]},{"p":"e","a":[28.5,32,32,28.5],"b":[18,18,-17,-17],"z":[0.855,0.955,0.955,0.825]},{"p":"e","a":[32,60,60,32],"b":[18,18,-17,-17],"z":[0.955,0.951,0.934,0.955]},
{"p":"e","a":[25,31,28,28],"b":[-17,-17,-17,-17],"z":[0.87,0.87,0.807,0.807]},
{"p":"e","a":[-60,-29,-29,-60],"b":[-17,-17,-21,-21],"z":[0.955,0.955,1.15,1.118]},{"p":"e","a":[-29,-25,-25,-29],"b":[-17,-17,-21,-21],"z":[0.955,0.825,0.975,1.15]},{"p":"e","a":[-25,28.5,28.5,-25],"b":[-17,-17,-21,-21],"z":[0.825,0.825,0.97,0.975]},{"p":"e","a":[28.5,32,32,28.5],"b":[-17,-17,-21,-21],"z":[0.825,0.955,1.12,0.97]},{"p":"e","a":[32,60,60,32],"b":[-17,-17,-21,-21],"z":[0.955,0.934,1.107,1.12]},
{"p":"e","a":[-60,-36,-36,-60],"b":[-21,-21,-30,-30],"z":[1.118,1.125,1.105,1.1]},{"p":"e","a":[-36,-29,-29,-36],"b":[-21,-21,-30,-30],"z":[1.125,1.15,1.12,1.105]},{"p":"e","a":[-29,-27,-27,-29],"b":[-21,-21,-30,-30],"z":[1.15,1.07,1.05,1.12]},{"p":"e","a":[-27,-25,-25,-27],"b":[-21,-21,-30,-30],"z":[1.07,0.975,0.975,1.05]},{"p":"e","a":[-25,28.5,28.5,-25],"b":[-21,-21,-30,-30],"z":[0.975,0.97,0.97,0.975]},{"p":"e","a":[28.5,30,30,28.5],"b":[-21,-21,-30,-30],"z":[0.97,1.06,1.05,0.97]},{"p":"e","a":[30,32,32,30],"b":[-21,-21,-30,-30],"z":[1.06,1.12,1.105,1.05]},{"p":"e","a":[32,40,40,32],"b":[-21,-21,-30,-30],"z":[1.12,1.112,1.1,1.105]},{"p":"e","a":[40,60,60,40],"b":[-21,-21,-30,-30],"z":[1.112,1.107,1.098,1.1]},
{"p":"e","a":[-60,-36,-36,-60],"b":[-30,-30,-60,-60],"z":[1.1,1.105,1.105,1.098]},{"p":"e","a":[-36,-29,-29,-36],"b":[-30,-30,-60,-60],"z":[1.105,1.12,1.09,1.105]},{"p":"e","a":[-29,-27,-27,-29],"b":[-30,-30,-60,-60],"z":[1.12,1.05,1.03,1.09]},{"p":"e","a":[-27,-25,-25,-27],"b":[-30,-30,-60,-60],"z":[1.05,0.975,0.976,1.03]},{"p":"e","a":[-25,28.5,28.5,-25],"b":[-30,-30,-60,-60],"z":[0.975,0.97,0.965,0.976]},{"p":"e","a":[28.5,30,30,28.5],"b":[-30,-30,-60,-60],"z":[0.97,1.05,1.04,0.965]},{"p":"e","a":[30,32,32,30],"b":[-30,-30,-60,-60],"z":[1.05,1.105,1.105,1.04]},{"p":"e","a":[32,40,40,32],"b":[-30,-30,-60,-60],"z":[1.105,1.1,1.095,1.105]},{"p":"e","a":[40,60,60,40],"b":[-30,-30,-60,-60],"z":[1.1,1.098,1.093,1.095]},
{"p":"e","a":[-29,-25,-25.4,-27.4],"b":[18,18.8,18.8,18.4],"z":[1.13,1.119,1,1.005]},{"p":"e","a":[-27.4,-25.4,-25.6,-26.4],"b":[18.4,18.8,18.8,18.6],"z":[1.005,1,0.928,0.93]},{"p":"e","a":[-26.4,-25.6,-25.8,-25.8],"b":[18.6,18.8,18.8,18.8],"z":[0.93,0.928,0.88,0.88]},

{"p":"g","a":[-60,-36,-36,-60],"b":[60,60,30,30],"z":[1.129,1.135,1.14,1.135]},{"p":"g","a":[-36,-29,-29,-36],"b":[60,60,30,30],"z":[1.135,1.165,1.17,1.14]},{"p":"g","a":[-29,-27,-27,-29],"b":[60,60,30,30],"z":[1.165,1.09,1.1,1.17]},{"p":"g","a":[-27,-25,-25,-27],"b":[60,60,30,30],"z":[1.09,0.973,0.973,1.1]},{"p":"g","a":[-25,28.5,28.5,-25],"b":[60,60,30,30],"z":[0.973,0.973,0.973,0.973]},{"p":"g","a":[28.5,30,30,28.5],"b":[60,60,30,30],"z":[0.973,1.05,1.05,0.973]},{"p":"g","a":[30,32,32,30],"b":[60,60,30,30],"z":[1.05,1.16,1.16,1.05]},{"p":"g","a":[32,40,40,32],"b":[60,60,30,30],"z":[1.16,1.14,1.14,1.16]},{"p":"g","a":[40,60,60,40],"b":[60,60,30,30],"z":[1.14,1.128,1.135,1.14]},
{"p":"g","a":[-60,-36,-36,-60],"b":[30,30,22.5,22.5],"z":[1.135,1.14,1.18,1.171]},{"p":"g","a":[-36,-29,-29,-36],"b":[30,30,22.5,22.5],"z":[1.14,1.17,1.194,1.18]},{"p":"g","a":[-29,-27,-27,-29],"b":[30,30,22.5,22.5],"z":[1.17,1.1,1.1,1.194]},{"p":"g","a":[-27,-25,-25,-27],"b":[30,30,22.5,22.5],"z":[1.1,0.973,0.973,1.1]},{"p":"g","a":[-25,28.5,28.5,-25],"b":[30,30,22.5,22.5],"z":[0.973,0.973,0.973,0.973]},{"p":"g","a":[28.5,30,30,28.5],"b":[30,30,22.5,22.5],"z":[0.973,1.05,1.08,0.973]},{"p":"g","a":[30,32,32,30],"b":[30,30,22.5,22.5],"z":[1.05,1.16,1.18,1.08]},{"p":"g","a":[32,40,40,32],"b":[30,30,22.5,22.5],"z":[1.16,1.14,1.172,1.18]},{"p":"g","a":[40,60,60,40],"b":[30,30,22.5,22.5],"z":[1.14,1.135,1.17,1.172]},
{"p":"g","a":[-60,-29,-29,-60],"b":[22.5,22.5,20.6,20.6],"z":[1.171,1.194,1.15,1.144]},{"p":"g","a":[-29,-25,-25,-29],"b":[22.5,22.5,20.6,20.6],"z":[1.194,0.973,0.973,1.15]},{"p":"g","a":[-25,28.5,28.5,-25],"b":[22.5,22.5,20.6,20.6],"z":[0.973,0.973,0.973,0.973]},{"p":"g","a":[28.5,32,32,28.5],"b":[22.5,22.5,20.6,20.6],"z":[0.973,1.18,1.144,0.973]},{"p":"g","a":[32,60,60,32],"b":[22.5,22.5,20.6,20.6],"z":[1.18,1.17,1.144,1.144]},
{"p":"g","a":[-60,-29,-29,-60],"b":[20.6,20.6,19.6,19.6],"z":[1.144,1.15,1.09,1.086]},{"p":"g","a":[-29,-25,-25,-29],"b":[20.6,20.6,19.6,19.6],"z":[1.15,0.973,0.965,1.09]},{"p":"g","a":[-25,28.5,28.5,-25],"b":[20.6,20.6,19.6,19.6],"z":[0.973,0.973,0.965,0.965]},{"p":"g","a":[28.5,32,32,28.5],"b":[20.6,20.6,19.6,19.6],"z":[0.973,1.144,1.086,0.965]},{"p":"g","a":[32,60,60,32],"b":[20.6,20.6,19.6,19.6],"z":[1.144,1.144,1.086,1.086]},
{"p":"g","a":[-60,-29,-29,-60],"b":[19.6,19.6,18.8,18.8],"z":[1.086,1.09,0.962,0.962]},{"p":"g","a":[-29,-25,-25,-29],"b":[19.6,19.6,18.8,18.8],"z":[1.09,0.965,0.92,0.962]},{"p":"g","a":[-25,28.5,28.5,-25],"b":[19.6,19.6,18.8,18.8],"z":[0.965,0.965,0.92,0.92]},{"p":"g","a":[28.5,32,32,28.5],"b":[19.6,19.6,18.8,18.8],"z":[0.965,1.086,0.962,0.92]},{"p":"g","a":[32,60,60,32],"b":[19.6,19.6,18.8,18.8],"z":[1.086,1.086,0.962,0.962]},
{"p":"g","a":[-60,-29,-29,-60],"b":[18.8,18.8,18.2,18.2],"z":[0.962,0.962,0.913,0.913]},{"p":"g","a":[-29,-25,-25,-29],"b":[18.8,18.8,18.2,18.2],"z":[0.962,0.92,0.885,0.913]},{"p":"g","a":[-25,28.5,28.5,-25],"b":[18.8,18.8,18.2,18.2],"z":[0.92,0.92,0.885,0.885]},{"p":"g","a":[28.5,32,32,28.5],"b":[18.8,18.8,18.2,18.2],"z":[0.92,0.962,0.913,0.885]},{"p":"g","a":[32,60,60,32],"b":[18.8,18.8,18.2,18.2],"z":[0.962,0.962,0.911,0.913]},
{"p":"g","a":[-60,-29,-29,-60],"b":[18.2,18.2,-13,-13],"z":[0.913,0.913,0.913,0.913]},{"p":"g","a":[-29,-25,-25,-29],"b":[18.2,18.2,-13,-13],"z":[0.913,0.885,0.795,0.913]},{"p":"g","a":[-25,28.5,28.5,-25],"b":[18.2,18.2,-13,-13],"z":[0.885,0.885,0.795,0.795]},{"p":"g","a":[28.5,32,32,28.5],"b":[18.2,18.2,-13,-13],"z":[0.885,0.913,0.913,0.795]},{"p":"g","a":[32,60,60,32],"b":[18.2,18.2,-13,-13],"z":[0.913,0.911,0.913,0.913]},
{"p":"g","a":[-60,-29,-29,-60],"b":[-13,-13,-17,-17],"z":[0.913,0.913,0.913,0.913]},{"p":"g","a":[-29,-25,-25,-29],"b":[-13,-13,-17,-17],"z":[0.913,0.795,0.76,0.913]},{"p":"g","a":[-25,28.5,28.5,-25],"b":[-13,-13,-17,-17],"z":[0.795,0.795,0.76,0.76]},{"p":"g","a":[28.5,32,32,28.5],"b":[-13,-13,-17,-17],"z":[0.795,0.913,0.913,0.76]},{"p":"g","a":[32,60,60,32],"b":[-13,-13,-17,-17],"z":[0.913,0.913,0.91,0.913]},
{"p":"g","a":[24.5,33.6,30.75,26.2],"b":[-17,-17,-17,-17],"z":[0.924,0.926,0.83,0.83]},{"p":"g","a":[26.2,30.75,27.9,27.9],"b":[-17,-17,-17,-17],"z":[0.83,0.83,0.735,0.735]},
{"p":"g","a":[-60,-29,-29,-60],"b":[-17,-17,-21,-21],"z":[0.913,0.913,1.18,1.169]},{"p":"g","a":[-29,-25,-25,-29],"b":[-17,-17,-21,-21],"z":[0.913,0.76,0.973,1.18]},{"p":"g","a":[-25,28.5,28.5,-25],"b":[-17,-17,-21,-21],"z":[0.76,0.76,0.97,0.973]},{"p":"g","a":[28.5,32,32,28.5],"b":[-17,-17,-21,-21],"z":[0.76,0.913,1.18,0.97]},{"p":"g","a":[32,60,60,32],"b":[-17,-17,-21,-21],"z":[0.913,0.91,1.163,1.18]},
{"p":"g","a":[-60,-36,-36,-60],"b":[-21,-21,-30,-30],"z":[1.169,1.175,1.15,1.14]},{"p":"g","a":[-36,-29,-29,-36],"b":[-21,-21,-30,-30],"z":[1.175,1.18,1.16,1.15]},{"p":"g","a":[-29,-27,-27,-29],"b":[-21,-21,-30,-30],"z":[1.18,1.09,1.07,1.16]},{"p":"g","a":[-27,-25,-25,-27],"b":[-21,-21,-30,-30],"z":[1.09,0.973,0.973,1.07]},{"p":"g","a":[-25,28.5,28.5,-25],"b":[-21,-21,-30,-30],"z":[0.973,0.97,0.97,0.973]},{"p":"g","a":[28.5,30,30,28.5],"b":[-21,-21,-30,-30],"z":[0.97,1.07,1.06,0.97]},{"p":"g","a":[30,32,32,30],"b":[-21,-21,-30,-30],"z":[1.07,1.18,1.16,1.06]},{"p":"g","a":[32,40,40,32],"b":[-21,-21,-30,-30],"z":[1.18,1.17,1.15,1.16]},{"p":"g","a":[40,60,60,40],"b":[-21,-21,-30,-30],"z":[1.17,1.163,1.14,1.15]},
{"p":"g","a":[-60,-36,-36,-60],"b":[-30,-30,-60,-60],"z":[1.14,1.15,1.147,1.129]},{"p":"g","a":[-36,-29,-29,-36],"b":[-30,-30,-60,-60],"z":[1.15,1.16,1.1,1.147]},{"p":"g","a":[-29,-27,-27,-29],"b":[-30,-30,-60,-60],"z":[1.16,1.07,1.02,1.1]},{"p":"g","a":[-27,-25,-25,-27],"b":[-30,-30,-60,-60],"z":[1.07,0.973,0.976,1.02]},{"p":"g","a":[-25,28.5,28.5,-25],"b":[-30,-30,-60,-60],"z":[0.973,0.97,0.96,0.976]},{"p":"g","a":[28.5,30,30,28.5],"b":[-30,-30,-60,-60],"z":[0.97,1.06,1.05,0.96]},{"p":"g","a":[30,32,32,30],"b":[-30,-30,-60,-60],"z":[1.06,1.16,1.153,1.05]},{"p":"g","a":[32,40,40,32],"b":[-30,-30,-60,-60],"z":[1.16,1.15,1.135,1.153]},{"p":"g","a":[40,60,60,40],"b":[-30,-30,-60,-60],"z":[1.15,1.14,1.128,1.135]},
{"p":"g","a":[-29.5,-25,-25.25,-27.75],"b":[17,18,17.9,17.4],"z":[1.188,1.137,0.975,1]},{"p":"g","a":[-27.75,-25.25,-25.4,-26.3],"b":[17.4,17.9,17.84,17.64],"z":[1,0.975,0.877,0.888]},{"p":"g","a":[-26.3,-25.4,-25.5,-25.5],"b":[17.64,17.84,17.8,17.8],"z":[0.888,0.877,0.812,0.812]}
]},
"transform":[{"window":[{"op":"row_number","as":"i"}]},{"calculate":"(datum.z[0]+datum.z[1]+datum.z[2]+datum.z[3])/4","as":"v"},{"flatten":["a","b","z"]},{"calculate":"309+4.625*(datum.a+60)+2.717*(datum.b+60)","as":"x"},{"calculate":"588+0.829*(datum.a+60)-1.475*(datum.b+60)-442*(datum.z-0.6)","as":"y"}],
"concat":[
{"width":1416,"height":985,"encoding":{"x":{"field":"x","type":"quantitative","axis":null,"scale":{"domain":[0,1416]}},"y":{"field":"y","type":"quantitative","axis":null,"scale":{"domain":[985,0]}}},"layer":[
{"transform":[{"filter":"datum.p=='f'"}],"mark":{"type":"line","order":false,"color":"black","strokeWidth":1.5},"encoding":{"detail":{"field":"i"}}},
{"transform":[{"filter":"datum.p=='a'"}],"mark":{"type":"line","order":false,"strokeWidth":1},"encoding":{"detail":{"field":"i"},"fill":{"field":"v","type":"quantitative","scale":{"domain":[0.95,1.04],"clamp":true},"legend":{"type":"gradient","format":".3~g","values":[0.95,0.96,0.97,0.98,0.99,1,1.01,1.02,1.03,1.04],"orient":"none","legendX":1216,"legendY":170,"title":null,"encode":{"labels":{"update":{"baseline":{"value":"middle"},"dx":{"value":33}}}}}},"stroke":{"field":"v","type":"quantitative","scale":{"domain":[0.94999,1.04],"clamp":true},"legend":null}}},
{"transform":[{"filter":"datum.p=='ah'"}],"mark":{"type":"line","order":false,"color":"#8004ff","strokeWidth":1,"opacity":0.4},"encoding":{"detail":{"field":"i"}}},
{"transform":[{"filter":"datum.p=='t'"}],"mark":"text","encoding":{"text":{"field":"t"}}},
{"transform":[{"filter":"datum.p=='z'||datum.p=='a1'"}],"mark":{"type":"text","align":"right"},"encoding":{"text":{"field":"t"}}},
{"transform":[{"filter":"datum.p=='u'||datum.p=='a2'"}],"mark":{"type":"text","fontSize":33},"encoding":{"text":{"field":"t"}}},
{"transform":[{"filter":"datum.p=='a3'"}],"mark":{"type":"text","font":"Liberation Serif","fontWeight":"bold","fontSize":70},"encoding":{"text":{"field":"t"}}}]},
{"width":1416,"height":985,"encoding":{"x":{"field":"x","type":"quantitative","axis":null,"scale":{"domain":[0,1416]}},"y":{"field":"y","type":"quantitative","axis":null,"scale":{"domain":[985,0]}}},"layer":[
{"transform":[{"filter":"datum.p=='f'"}],"mark":{"type":"line","order":false,"color":"black","strokeWidth":1.5},"encoding":{"detail":{"field":"i"}}},
{"transform":[{"filter":"datum.p=='b'"}],"mark":{"type":"line","order":false,"strokeWidth":1},"encoding":{"detail":{"field":"i"},"fill":{"field":"v","type":"quantitative","scale":{"domain":[0.95,1.04],"clamp":true},"legend":{"type":"gradient","format":".3~g","values":[0.95,0.96,0.97,0.98,0.99,1,1.01,1.02,1.03,1.04],"orient":"none","legendX":1216,"legendY":170,"title":null,"encode":{"labels":{"update":{"baseline":{"value":"middle"},"dx":{"value":33}}}}}},"stroke":{"field":"v","type":"quantitative","scale":{"domain":[0.94999,1.04],"clamp":true},"legend":null}}},
{"transform":[{"filter":"datum.p=='bh'"}],"mark":{"type":"line","order":false,"color":"#8004ff","strokeWidth":1,"opacity":0.4},"encoding":{"detail":{"field":"i"}}},
{"transform":[{"filter":"datum.p=='t'"}],"mark":"text","encoding":{"text":{"field":"t"}}},
{"transform":[{"filter":"datum.p=='z'||datum.p=='b1'"}],"mark":{"type":"text","align":"right"},"encoding":{"text":{"field":"t"}}},
{"transform":[{"filter":"datum.p=='u'||datum.p=='b2'"}],"mark":{"type":"text","fontSize":33},"encoding":{"text":{"field":"t"}}},
{"transform":[{"filter":"datum.p=='b3'"}],"mark":{"type":"text","font":"Liberation Serif","fontWeight":"bold","fontSize":70},"encoding":{"text":{"field":"t"}}}]},
{"width":1416,"height":985,"encoding":{"x":{"field":"x","type":"quantitative","axis":null,"scale":{"domain":[0,1416]}},"y":{"field":"y","type":"quantitative","axis":null,"scale":{"domain":[985,0]}}},"layer":[
{"transform":[{"filter":"datum.p=='f'"}],"mark":{"type":"line","order":false,"color":"black","strokeWidth":1.5},"encoding":{"detail":{"field":"i"}}},
{"transform":[{"filter":"datum.p=='c'"}],"mark":{"type":"line","order":false,"strokeWidth":1},"encoding":{"detail":{"field":"i"},"fill":{"field":"v","type":"quantitative","scale":{"domain":[0.95,1.04],"clamp":true},"legend":{"type":"gradient","format":".3~g","values":[0.95,0.96,0.97,0.98,0.99,1,1.01,1.02,1.03,1.04],"orient":"none","legendX":1216,"legendY":170,"title":null,"encode":{"labels":{"update":{"baseline":{"value":"middle"},"dx":{"value":33}}}}}},"stroke":{"field":"v","type":"quantitative","scale":{"domain":[0.94999,1.04],"clamp":true},"legend":null}}},
{"transform":[{"filter":"datum.p=='ch'"}],"mark":{"type":"line","order":false,"color":"#8004ff","strokeWidth":1,"opacity":0.4},"encoding":{"detail":{"field":"i"}}},
{"transform":[{"filter":"datum.p=='t'"}],"mark":"text","encoding":{"text":{"field":"t"}}},
{"transform":[{"filter":"datum.p=='z'||datum.p=='c1'"}],"mark":{"type":"text","align":"right"},"encoding":{"text":{"field":"t"}}},
{"transform":[{"filter":"datum.p=='u'||datum.p=='c2'"}],"mark":{"type":"text","fontSize":33},"encoding":{"text":{"field":"t"}}},
{"transform":[{"filter":"datum.p=='c3'"}],"mark":{"type":"text","font":"Liberation Serif","fontWeight":"bold","fontSize":70},"encoding":{"text":{"field":"t"}}}]},
{"width":1416,"height":985,"encoding":{"x":{"field":"x","type":"quantitative","axis":null,"scale":{"domain":[0,1416]}},"y":{"field":"y","type":"quantitative","axis":null,"scale":{"domain":[985,0]}}},"layer":[
{"transform":[{"filter":"datum.p=='f'"}],"mark":{"type":"line","order":false,"color":"black","strokeWidth":1.5},"encoding":{"detail":{"field":"i"}}},
{"transform":[{"filter":"datum.p=='d'"}],"mark":{"type":"line","order":false,"strokeWidth":1},"encoding":{"detail":{"field":"i"},"fill":{"field":"v","type":"quantitative","scale":{"domain":[0.9,1.08],"clamp":true},"legend":{"type":"gradient","format":".3~g","values":[0.9,0.92,0.94,0.96,0.98,1,1.02,1.04,1.06,1.08],"orient":"none","legendX":1216,"legendY":170,"title":null,"encode":{"labels":{"update":{"baseline":{"value":"middle"},"dx":{"value":33}}}}}},"stroke":{"field":"v","type":"quantitative","scale":{"domain":[0.89999,1.08],"clamp":true},"legend":null}}},
{"transform":[{"filter":"datum.p=='dh'"}],"mark":{"type":"line","order":false,"color":"#8004ff","strokeWidth":1,"opacity":0.4},"encoding":{"detail":{"field":"i"}}},
{"transform":[{"filter":"datum.p=='t'"}],"mark":"text","encoding":{"text":{"field":"t"}}},
{"transform":[{"filter":"datum.p=='z'||datum.p=='d1'"}],"mark":{"type":"text","align":"right"},"encoding":{"text":{"field":"t"}}},
{"transform":[{"filter":"datum.p=='u'||datum.p=='d2'"}],"mark":{"type":"text","fontSize":33},"encoding":{"text":{"field":"t"}}},
{"transform":[{"filter":"datum.p=='d3'"}],"mark":{"type":"text","font":"Liberation Serif","fontWeight":"bold","fontSize":70},"encoding":{"text":{"field":"t"}}}]},
{"width":1416,"height":985,"encoding":{"x":{"field":"x","type":"quantitative","axis":null,"scale":{"domain":[0,1416]}},"y":{"field":"y","type":"quantitative","axis":null,"scale":{"domain":[985,0]}}},"layer":[
{"transform":[{"filter":"datum.p=='f'"}],"mark":{"type":"line","order":false,"color":"black","strokeWidth":1.5},"encoding":{"detail":{"field":"i"}}},
{"transform":[{"filter":"datum.p=='e'"}],"mark":{"type":"line","order":false,"strokeWidth":1},"encoding":{"detail":{"field":"i"},"fill":{"field":"v","type":"quantitative","scale":{"domain":[0.8,1.15],"clamp":true},"legend":{"type":"gradient","format":".3~g","values":[0.8,0.85,0.9,0.95,1,1.05,1.1,1.15],"orient":"none","legendX":1216,"legendY":170,"title":null,"encode":{"labels":{"update":{"baseline":{"value":"middle"},"dx":{"value":33}}}}}},"stroke":{"field":"v","type":"quantitative","scale":{"domain":[0.79999,1.15],"clamp":true},"legend":null}}},
{"transform":[{"filter":"datum.p=='eh'"}],"mark":{"type":"line","order":false,"color":"#8004ff","strokeWidth":1,"opacity":0.4},"encoding":{"detail":{"field":"i"}}},
{"transform":[{"filter":"datum.p=='t'"}],"mark":"text","encoding":{"text":{"field":"t"}}},
{"transform":[{"filter":"datum.p=='z'||datum.p=='e1'"}],"mark":{"type":"text","align":"right"},"encoding":{"text":{"field":"t"}}},
{"transform":[{"filter":"datum.p=='u'||datum.p=='e2'"}],"mark":{"type":"text","fontSize":33},"encoding":{"text":{"field":"t"}}},
{"transform":[{"filter":"datum.p=='e3'"}],"mark":{"type":"text","font":"Liberation Serif","fontWeight":"bold","fontSize":70},"encoding":{"text":{"field":"t"}}}]},
{"width":1416,"height":985,"encoding":{"x":{"field":"x","type":"quantitative","axis":null,"scale":{"domain":[0,1416]}},"y":{"field":"y","type":"quantitative","axis":null,"scale":{"domain":[985,0]}}},"layer":[
{"transform":[{"filter":"datum.p=='f'"}],"mark":{"type":"line","order":false,"color":"black","strokeWidth":1.5},"encoding":{"detail":{"field":"i"}}},
{"transform":[{"filter":"datum.p=='g'"}],"mark":{"type":"line","order":false,"strokeWidth":1},"encoding":{"detail":{"field":"i"},"fill":{"field":"v","type":"quantitative","scale":{"domain":[0.7,1.2],"clamp":true},"legend":{"type":"gradient","format":".3~g","values":[0.7,0.75,0.8,0.85,0.9,0.95,1,1.05,1.1,1.15,1.2],"orient":"none","legendX":1216,"legendY":170,"title":null,"encode":{"labels":{"update":{"baseline":{"value":"middle"},"dx":{"value":33}}}}}},"stroke":{"field":"v","type":"quantitative","scale":{"domain":[0.69999,1.2],"clamp":true},"legend":null}}},
{"transform":[{"filter":"datum.p=='gh'"}],"mark":{"type":"line","order":false,"color":"#8004ff","strokeWidth":1,"opacity":0.4},"encoding":{"detail":{"field":"i"}}},
{"transform":[{"filter":"datum.p=='t'"}],"mark":"text","encoding":{"text":{"field":"t"}}},
{"transform":[{"filter":"datum.p=='z'||datum.p=='f1'"}],"mark":{"type":"text","align":"right"},"encoding":{"text":{"field":"t"}}},
{"transform":[{"filter":"datum.p=='u'||datum.p=='f2'"}],"mark":{"type":"text","fontSize":33},"encoding":{"text":{"field":"t"}}},
{"transform":[{"filter":"datum.p=='f3'"}],"mark":{"type":"text","font":"Liberation Serif","fontWeight":"bold","fontSize":70},"encoding":{"text":{"field":"t"}}}]}
]}
